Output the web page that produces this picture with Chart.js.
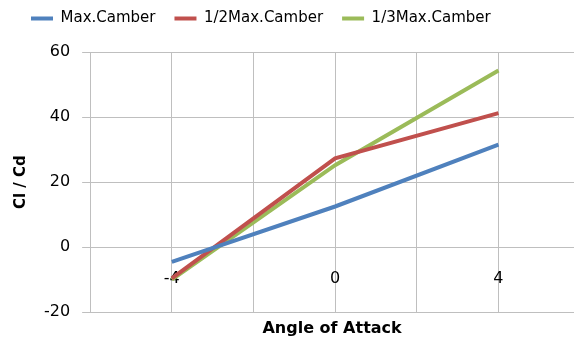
<!DOCTYPE html>
<html>
<head>
<meta charset="utf-8">
<script src="https://cdn.jsdelivr.net/npm/chart.js@4/dist/chart.umd.min.js"></script>
<style>
  html, body { margin: 0; padding: 0; background: #fff; overflow: hidden; }
  #wrap { width: 574px; height: 337px; }
</style>
</head>
<body>
<div id="wrap"><canvas id="c" width="574" height="337"></canvas></div>
<script>
// Angle of attack (deg) and lift-to-drag ratio per camber setting
const angles = [-4, 0, 4];
const maxCamber = [-4.5, 12.5, 31.5];
const halfMaxCamber = [-9.6, 27.3, 41.2];
const thirdMaxCamber = [-10, 25.2, 54.3];
const seriesNames = ['Max.Camber', '1/2Max.Camber', '1/3Max.Camber'];
const xGrid = [-6, -4, -2, 0, 2, 4];
const xTickLabels = [-4, 0, 4];
const yTicks = [-20, 0, 20, 40, 60];

const colors = ['#4F81BD', '#C0504D', '#9BBB59'];
const font = 'DejaVu Sans';
const gridColor = '#BFBFBF';

function pts(vals) { return angles.map((a, i) => ({ x: a, y: vals[i] })); }

const datasets = [maxCamber, halfMaxCamber, thirdMaxCamber].map((vals, i) => ({
  label: seriesNames[i],
  data: pts(vals),
  borderColor: colors[i],
  backgroundColor: colors[i],
  borderWidth: 4,
  pointRadius: 0,
  tension: 0,
  fill: false
}));

// extra room between the legend row and the plot
const legendGap = {
  id: 'legendGap',
  afterInit(chart) {
    const fit = chart.legend.fit;
    chart.legend.fit = function () {
      fit.call(this);
      this.height += 16;
    };
  }
};

new Chart(document.getElementById('c'), {
  type: 'line',
  data: { datasets },
  plugins: [legendGap],
  options: {
    responsive: false,
    animation: false,
    layout: { padding: { left: 12, right: 0, top: -8, bottom: 0 } },
    plugins: {
      tooltip: { enabled: false },
      legend: {
        position: 'top',
        align: 'start',
        labels: {
          font: { family: font, size: 15 },
          color: '#000',
          boxWidth: 22,
          boxHeight: 4,
          padding: 19,
          generateLabels(chart) {
            return chart.data.datasets.map((d, i) => ({
              text: d.label,
              fillStyle: d.borderColor,
              strokeStyle: d.borderColor,
              lineWidth: 0,
              datasetIndex: i,
              hidden: false
            }));
          }
        }
      }
    },
    scales: {
      x: {
        type: 'linear',
        position: { y: 0 },
        min: -6,
        max: 5.85,
        afterFit(scale) { scale.height = 0; },
        afterBuildTicks(scale) { scale.ticks = xGrid.map(v => ({ value: v })); },
        ticks: {
          padding: 22,
          font: { family: font, size: 16 },
          color: '#000',
          maxRotation: 0,
          callback: (v) => xTickLabels.includes(v) ? String(v) : ''
        },
        grid: { color: gridColor, lineWidth: 1, drawTicks: false },
        border: { display: false }
      },
      xTitle: {
        type: 'linear',
        position: 'bottom',
        min: -6,
        max: 5.85,
        grid: { display: false },
        border: { display: false },
        ticks: { display: false },
        title: {
          display: true,
          text: 'Angle of Attack',
          font: { family: font, size: 16, weight: 'bold', lineHeight: 1.05 },
          color: '#000',
          padding: { top: 0, bottom: 0 }
        }
      },
      y: {
        min: -20,
        max: 60,
        afterBuildTicks(scale) { scale.ticks = yTicks.map(v => ({ value: v })); },
        ticks: {
          font: { family: font, size: 16 },
          color: '#000',
          padding: 12
        },
        grid: { color: gridColor, lineWidth: 1, tickLength: 8 },
        border: { display: true, color: gridColor },
        title: {
          display: true,
          text: 'Cl / Cd',
          font: { family: font, size: 15, weight: 'bold' },
          color: '#000',
          padding: { top: 0, bottom: 2 }
        }
      }
    }
  }
});
</script>
</body>
</html>
